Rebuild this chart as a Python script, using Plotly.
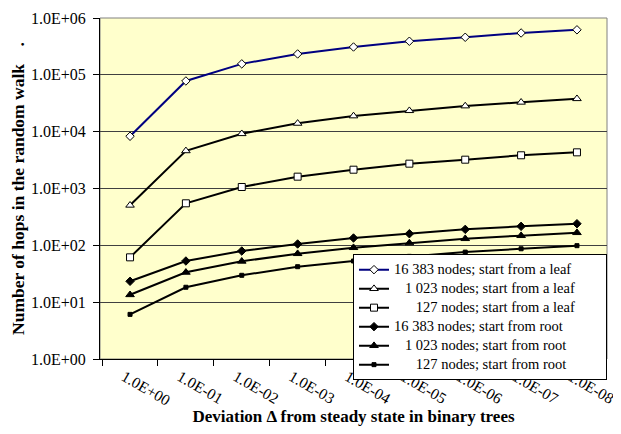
import plotly.graph_objects as go

# ---- data ----
deviation_labels = ["1.0E+00", "1.0E-01", "1.0E-02", "1.0E-03", "1.0E-04",
                    "1.0E-05", "1.0E-06", "1.0E-07", "1.0E-08"]

leaf_16383 = [8300, 78000, 156000, 233000, 309000, 390000, 458000, 545000, 620000]
leaf_1023 = [507, 4600, 9200, 14000, 18900, 23400, 28300, 32900, 38000]
leaf_127 = [61.5, 549, 1063, 1615, 2143, 2735, 3215, 3840, 4330]
root_16383 = [23.3, 53, 79.5, 105.6, 134.6, 160, 191, 216, 240]
root_1023 = [13.5, 33.5, 52.4, 71.3, 91, 110, 131, 148, 167]
root_127 = [6.1, 18.3, 29.7, 42.1, 53, 64, 76, 87, 98.6]

series_names = [
    "16 383 nodes; start from a leaf",
    "\u00a0\u00a0\u00a01 023 nodes; start from a leaf",
    "\u00a0\u00a0\u00a0\u00a0\u00a0\u00a0127 nodes; start from a leaf",
    "16 383 nodes; start from root",
    "\u00a0\u00a0\u00a01 023 nodes; start from root",
    "\u00a0\u00a0\u00a0\u00a0\u00a0\u00a0127 nodes; start from root",
]

y_tick_vals = [1, 10, 100, 1000, 10000, 100000, 1000000]
y_tick_text = ["1.0E+00", "1.0E+01", "1.0E+02", "1.0E+03", "1.0E+04", "1.0E+05", "1.0E+06"]

FONT = "Liberation Serif"

styles = [
    ("#000080", "diamond", 6.5, "white"),
    ("black", "triangle-up", 7.5, "white"),
    ("black", "square", 7, "white"),
    ("black", "diamond", 6.5, "black"),
    ("black", "triangle-up", 7.5, "black"),
    ("black", "square", 4, "black"),
]
values = [leaf_16383, leaf_1023, leaf_127, root_16383, root_1023, root_127]

fig = go.Figure()
for vals, name, (color, sym, size, fill) in zip(values, series_names, styles):
    fig.add_trace(go.Scatter(
        x=deviation_labels, y=vals, mode="lines+markers",
        name="<span style='font-size:14.5px'>" + name + "\u00a0" * 7 + "</span>",
        line=dict(color=color, width=2),
        marker=dict(symbol=sym, size=size, color=fill,
                    line=dict(color="black", width=1)),
    ))

fig.update_layout(
    width=621, height=434,
    margin=dict(l=92, r=22, t=10, b=83, autoexpand=False),
    paper_bgcolor="white",
    plot_bgcolor="#FFFFCC",
    font=dict(family=FONT, color="black", size=14),
    showlegend=True,
    legend=dict(
        x=1.0, xanchor="right", y=-0.062, yanchor="bottom",
        bgcolor="white", bordercolor="black", borderwidth=1,
        font=dict(family=FONT, size=10, color="black"),
        itemwidth=30, tracegroupgap=0,
    ),
    shapes=[dict(type="rect", xref="paper", yref="paper", x0=0, x1=1, y0=0, y1=1,
                 line=dict(color="#808080", width=1), layer="below")],
)

fig.update_xaxes(
    type="category", automargin=False,
    tickangle=30,
    ticks="outside", ticklen=6, tickcolor="black", tickson="boundaries",
    showline=True, linecolor="black", linewidth=1,
    showgrid=False, zeroline=False,
    tickfont=dict(family=FONT, size=15.5, color="black"),
    ticklabelstandoff=2,
    ticklabelshift=-6,
    title=dict(text="<b>Deviation \u0394 from steady state in binary trees</b>",
               font=dict(family=FONT, size=17, color="black"), standoff=0),
)

fig.update_yaxes(
    type="log", range=[0, 6], automargin=False,
    tickvals=y_tick_vals, ticktext=y_tick_text,
    ticks="outside", ticklen=6, tickcolor="black",
    showline=True, linecolor="black", linewidth=1,
    showgrid=True, gridcolor="#404040", gridwidth=1,
    zeroline=False,
    tickfont=dict(family=FONT, size=16, color="black"),
    ticklabelstandoff=4,
    title=dict(text="<b>Number of hops in the random walk\u00a0\u00a0\u00a0\u00a0.</b>",
               font=dict(family=FONT, size=17.5, color="black"), standoff=3),
)

fig.write_html("out.html")
